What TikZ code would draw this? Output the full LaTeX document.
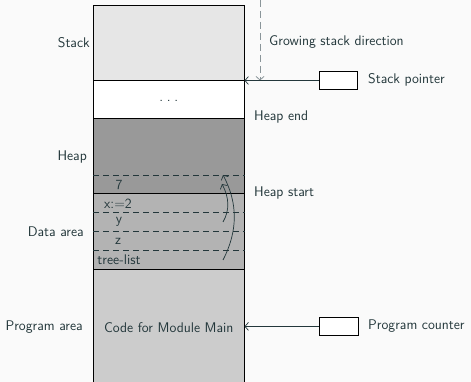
\documentclass[tikz,border=0pt]{standalone}
\usepackage{fontspec}
\usetikzlibrary{arrows.meta}
\definecolor{bgcol}{HTML}{FAFAFA}
\definecolor{ink}{HTML}{23373B}
\definecolor{stackfill}{HTML}{E6E6E6}
\definecolor{heapfill}{HTML}{999999}
\definecolor{datafill}{HTML}{B3B3B3}
\definecolor{progfill}{HTML}{CCCCCC}
\definecolor{growcol}{HTML}{8A9599}
\tikzset{
  every node/.style={font=\sffamily\fontsize{14}{16}\selectfont, text=ink},
  region/.style={draw=black, line width=0.9pt, inner sep=0pt, outer sep=0pt,
    minimum width=151.5pt},
  cellline/.style={draw=ink, line width=0.6pt, dash pattern=on 6pt off 4pt},
  celltext/.style={inner sep=0pt},
  sidetext/.style={inner sep=0pt},
  regbox/.style={draw=black, line width=0.8pt, fill=white, inner sep=0pt,
    minimum width=38.5pt, minimum height=18.5pt},
  ptr/.style={draw=ink, line width=0.7pt, -{Straight Barb[length=3.5pt,width=8pt]}},
  growline/.style={draw=growcol, line width=0.8pt, dash pattern=on 7pt off 4pt,
    -{Straight Barb[length=3.5pt,width=8pt]}}
}
\begin{document}
\begin{tikzpicture}[x=1pt,y=-1pt]
\useasboundingbox (0,0) rectangle (471,382);
\fill[bgcol] (0,0) rectangle (471,382);
\clip (0,0) rectangle (471,382);

% memory layout column
\node[region, fill=stackfill, minimum height=75.5pt] (stack) at (168.75,42.75) {};
\node[region, fill=white, minimum height=37.8pt] (gap) at (168.75,99.4) {};
\node[inner sep=0pt] (gapdots) at ([yshift=-2pt]gap.center) {.\kern.27em.\kern.27em.};
\node[region, fill=heapfill, minimum height=75.4pt] (heap) at (168.75,156) {};
\node[region, fill=datafill, minimum height=75.6pt] (data) at (168.75,231.5) {};
\node[region, fill=progfill, minimum height=115.7pt] (prog) at (168.75,327.15) {Code for Module Main};

% cell boundaries
\draw[cellline] ([yshift=-56.6pt]heap.north west) -- ([yshift=-56.6pt]heap.north east);
\draw[cellline] ([yshift=-18.6pt]data.north west) -- ([yshift=-18.6pt]data.north east);
\draw[cellline] ([yshift=-37.6pt]data.north west) -- ([yshift=-37.6pt]data.north east);
\draw[cellline] ([yshift=-56.3pt]data.north west) -- ([yshift=-56.3pt]data.north east);

% cell contents
\node[celltext] (c7) at (119,185) {7};
\node[celltext] (cx) at (118,203.5) {x:=2};
\node[celltext] (cy) at (119,222) {y};
\node[celltext] (cz) at (118,241) {z};
\node[celltext] (ctree) at (119,260) {tree-list};

% references from the data area into the heap
\coordinate (treefrom) at (223,260);
\coordinate (treeto) at (223,175);
\coordinate (yfrom) at (223,222);
\coordinate (yto) at (222,184);
\draw[ptr] (treefrom) .. controls (238,231) and (238,203) .. (treeto);
\draw[ptr] (yfrom) .. controls (230,210) and (229,197) .. (yto);

% area names
\node[sidetext, anchor=east] (lstack) at (90,43) {Stack};
\node[sidetext, anchor=east] (lheap) at (87,157) {Heap};
\node[sidetext, anchor=east] (ldata) at (84,232) {Data area};
\node[sidetext, anchor=east] (lprog) at (83,327) {Program area};

% heap boundaries
\node[sidetext, anchor=west] (hend) at (254,117) {Heap end};
\node[sidetext, anchor=west] (hstart) at (254,193) {Heap start};

% stack growth
\coordinate (growtop) at (260,0);
\coordinate (growbot) at (260,80.5);
\draw[growline] (growtop) -- (growbot);
\node[sidetext, anchor=west] (growlabel) at (269,42) {Growing stack direction};

% registers
\node[regbox] (spbox) at (338.4,80.5) {};
\node[sidetext, anchor=west] (splabel) at (368,80) {Stack pointer};
\draw[ptr] (spbox.west) -- (stack.south east);

\node[regbox] (pcbox) at (339,326.4) {};
\node[sidetext, anchor=west] (pclabel) at (368,326) {Program counter};
\draw[ptr] (pcbox.west) -- (prog.east |- pcbox.west);
\end{tikzpicture}
\end{document}
